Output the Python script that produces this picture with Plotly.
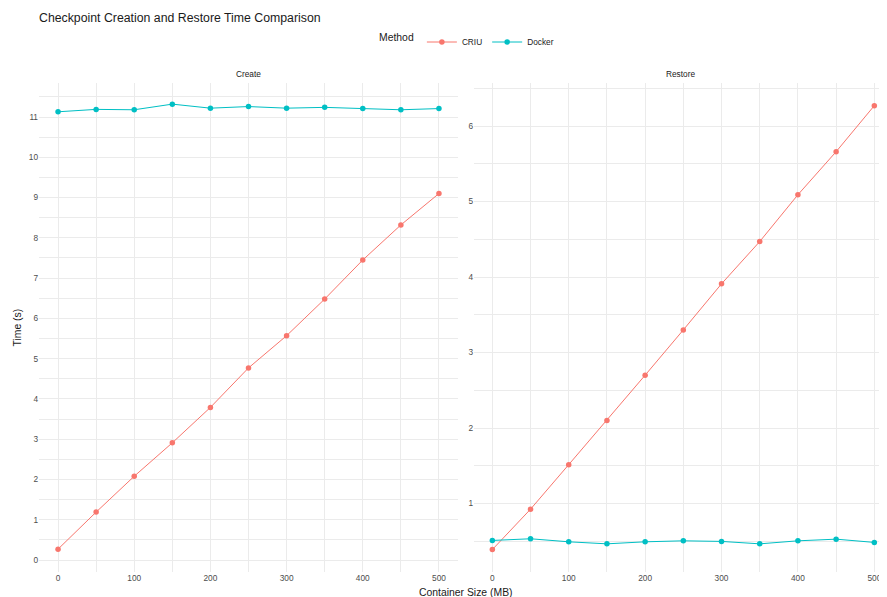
import plotly.graph_objects as go

# ---- data ----
sizes = [0, 50, 100, 150, 200, 250, 300, 350, 400, 450, 500]
create_criu = [0.27, 1.19, 2.08, 2.91, 3.79, 4.77, 5.57, 6.48, 7.45, 8.32, 9.10]
create_docker = [11.13, 11.19, 11.18, 11.32, 11.22, 11.26, 11.22, 11.24, 11.21, 11.18, 11.21]
restore_criu = [0.39, 0.925, 1.515, 2.10, 2.70, 3.30, 3.91, 4.47, 5.09, 5.66, 6.27]
restore_docker = [0.511, 0.533, 0.493, 0.466, 0.493, 0.506, 0.498, 0.466, 0.506, 0.528, 0.485]
x_ticks = [0, 100, 200, 300, 400, 500]
create_ticks = list(range(0, 12))
restore_ticks = [1, 2, 3, 4, 5, 6]

CRIU_COL = "#F8766D"
DOCKER_COL = "#00BFC4"
FONT = "Liberation Sans, Arial, sans-serif"
GRID = "#EBEBEB"
BASE = 10.4
SMALL = 8.3

fig = go.Figure()

def add(xv, yv, name, col, xa, ya, show):
    fig.add_trace(go.Scatter(
        x=xv, y=yv, mode="lines+markers", name=name,
        line=dict(color=col, width=1.0),
        marker=dict(color=col, size=5.5),
        xaxis=xa, yaxis=ya, showlegend=show, legendgroup=name,
    ))

add(sizes, create_criu, "CRIU", CRIU_COL, "x", "y", True)
add(sizes, create_docker, "Docker", DOCKER_COL, "x", "y", True)
add(sizes, restore_criu, "CRIU", CRIU_COL, "x2", "y2", False)
add(sizes, restore_docker, "Docker", DOCKER_COL, "x2", "y2", False)

# the page body adds an 8px offset, so the figure is 8px smaller than the window
W, H = 879, 589
ml, mr, mt, mb = 31, 0, 75, 25
pw = W - ml - mr

axis_common = dict(
    showline=False, zeroline=False, ticks="",
    showgrid=True, gridcolor=GRID, gridwidth=1.1,
    tickfont=dict(family=FONT, size=SMALL, color="#4D4D4D"),
)

fig.update_layout(
    width=W, height=H,
    margin=dict(l=ml, r=mr, t=mt, b=mb),
    paper_bgcolor="white", plot_bgcolor="white",
    font=dict(family=FONT),
    title=dict(text="Checkpoint Creation and Restore Time Comparison",
               x=31 / W, xanchor="left", y=1 - 10 / H, yanchor="middle",
               font=dict(family=FONT, size=12.3, color="#1A1A1A")),
    legend=dict(orientation="h", x=460 / W, xanchor="center", y=1 - 34 / H, yanchor="middle",
                yref="container", xref="container",
                title=dict(text="Method", font=dict(family=FONT, size=BASE, color="#1A1A1A")),
                font=dict(family=FONT, size=SMALL, color="#1A1A1A"),
                itemwidth=30, tracegroupgap=0),
    xaxis=dict(domain=[0, 419 / pw], range=[-25, 525], tickvals=x_ticks,
               minor=dict(dtick=50, tick0=0, showgrid=True, gridcolor=GRID, gridwidth=0.6),
               anchor="y", **axis_common),
    xaxis2=dict(domain=[(466 - ml) / pw, 1], range=[-24, 516.6], tickvals=x_ticks,
                minor=dict(dtick=50, tick0=0, showgrid=True, gridcolor=GRID, gridwidth=0.6),
                anchor="y2", **axis_common),
    yaxis=dict(range=[-0.298, 11.845], tickvals=create_ticks,
               minor=dict(dtick=0.5, tick0=0, showgrid=True, gridcolor=GRID, gridwidth=0.6),
               anchor="x", **axis_common),
    yaxis2=dict(range=[0.093, 6.57], tickvals=restore_ticks,
                minor=dict(dtick=0.5, tick0=0, showgrid=True, gridcolor=GRID, gridwidth=0.6),
                anchor="x2", **axis_common),
)

# facet strip labels
for ax, lab in (("x", "Create"), ("x2", "Restore")):
    fig.add_annotation(text=lab, xref=ax + " domain", yref="paper", x=0.5, y=1,
                       yshift=9, showarrow=False, yanchor="middle",
                       font=dict(family=FONT, size=SMALL, color="#1A1A1A"))
# axis titles
fig.add_annotation(text="Container Size (MB)", xref="paper", yref="paper",
                   x=(458 - ml) / pw, y=0, yshift=-20, showarrow=False,
                   xanchor="center", yanchor="middle",
                   font=dict(family=FONT, size=BASE, color="#1A1A1A"))
fig.add_annotation(text="Time (s)", xref="paper", yref="paper",
                   x=0, xshift=-22, y=0.5, textangle=-90, showarrow=False,
                   xanchor="center", yanchor="middle",
                   font=dict(family=FONT, size=BASE, color="#1A1A1A"))

fig.write_html("out.html")
